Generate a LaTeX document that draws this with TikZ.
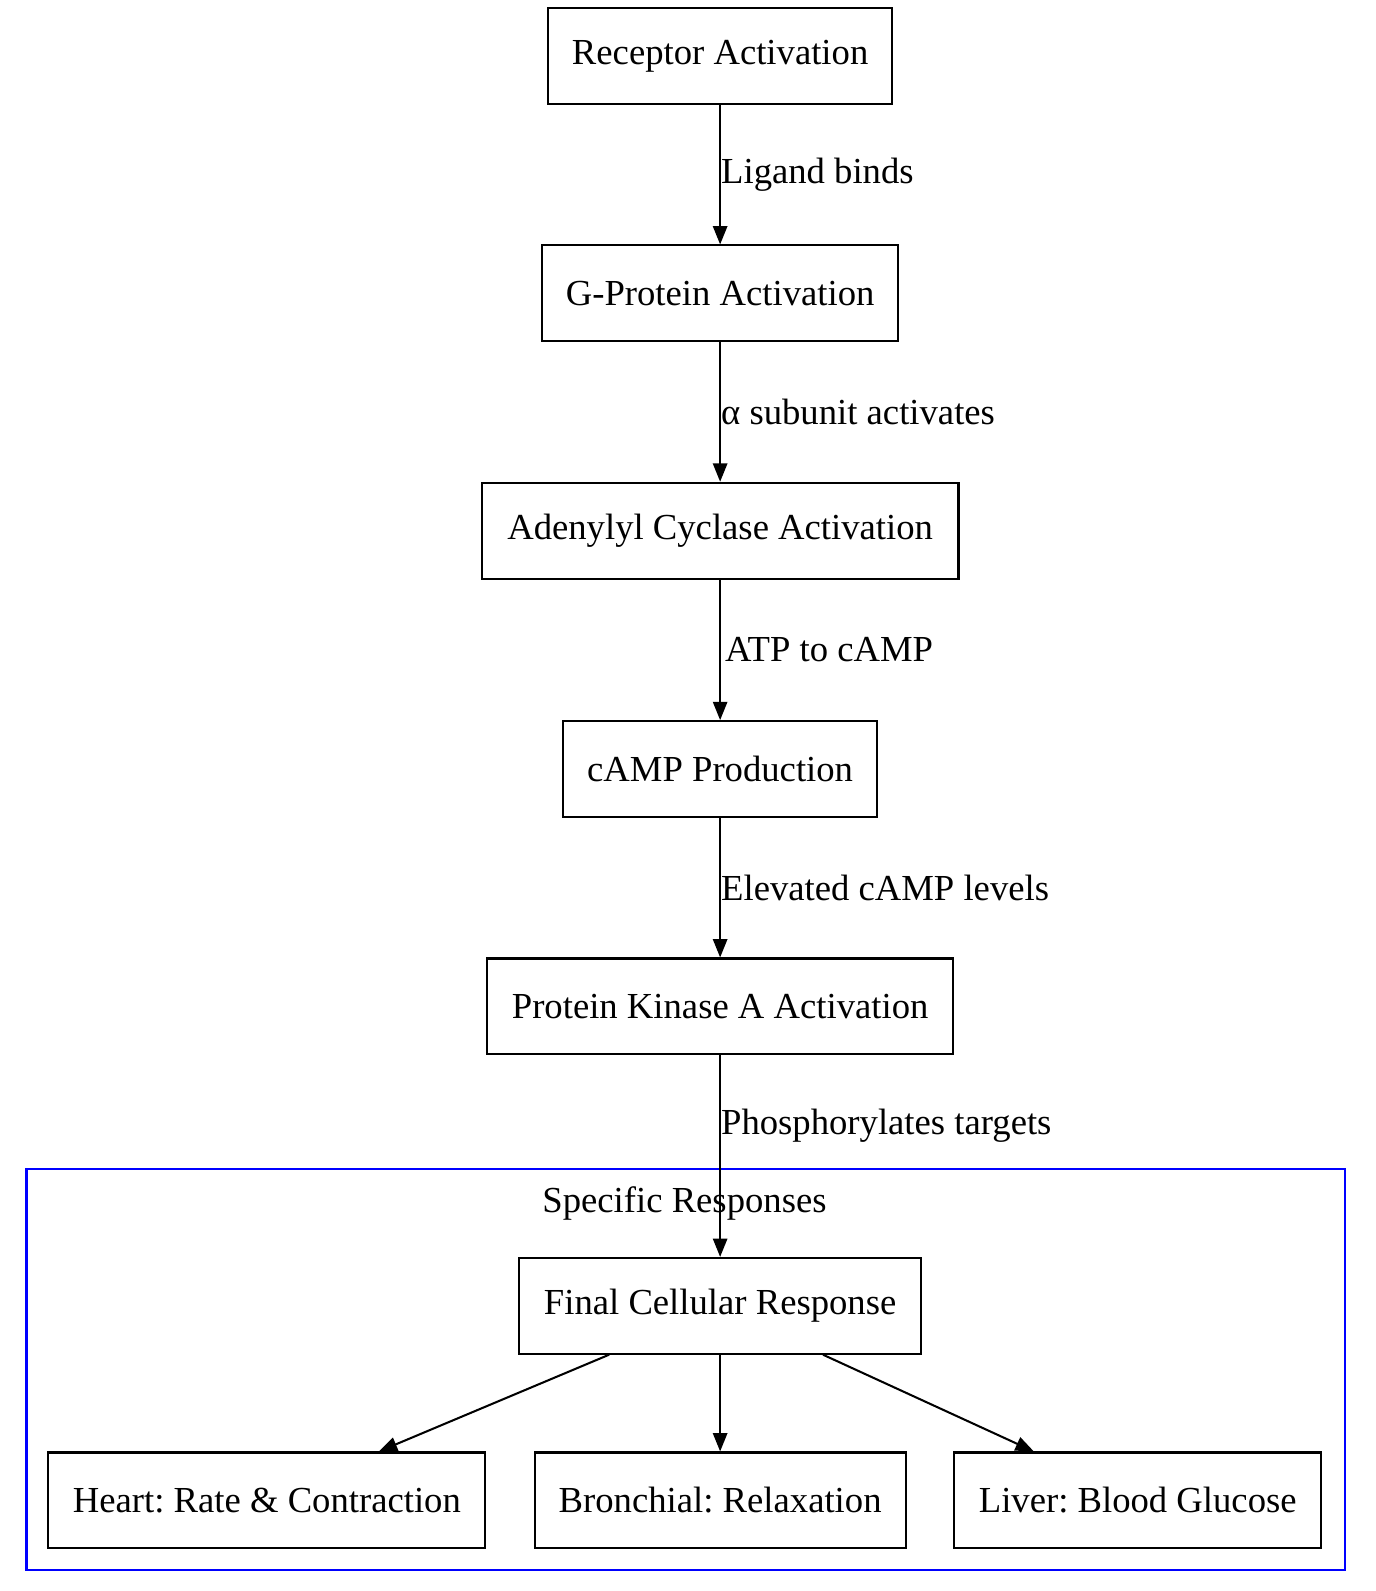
\documentclass[tikz,border=0pt]{standalone}
\usepackage{fontspec}
\setmainfont{Liberation Serif}
\usetikzlibrary{arrows.meta}
\frenchspacing
\begin{document}
\begin{tikzpicture}[x=0.5pt,y=-0.5pt,
  box/.style={draw,line width=1pt,minimum height=47pt,inner sep=0pt,font=\fontsize{18}{20}\selectfont},
  arr/.style={-{Triangle[length=9pt,width=7pt]},line width=1pt},
  lab/.style={font=\fontsize{18}{20}\selectfont,anchor=west,inner sep=0pt}]
\useasboundingbox (0,0) rectangle (1350,1562);
\draw[blue,line width=1pt] (26,1148) rectangle (1320,1541);
\node[font=\fontsize{18}{20}\selectfont] (cl) at (672,1182) {Specific Responses};
\node[box,minimum width=169pt] (r) at (707,55) {Receptor Activation};
\node[box,minimum width=175pt] (g) at (707,288) {G-Protein Activation};
\node[box,minimum width=234pt] (a) at (707,521) {Adenylyl Cyclase Activation};
\node[box,minimum width=154pt] (c) at (707,755) {cAMP Production};
\node[box,minimum width=229pt] (p) at (707,988) {Protein Kinase A Activation};
\node[box,minimum width=197pt] (f) at (707,1282) {Final Cellular Response};
\node[box,minimum width=214.5pt] (h) at (262,1473) {Heart: Rate \& Contraction};
\node[box,minimum width=182pt] (b) at (707,1473) {Bronchial: Relaxation};
\node[box,minimum width=180pt] (l) at (1117,1473) {Liver: Blood Glucose};
\draw[arr] (r) -- node[lab,pos=0.5]{Ligand binds} (g);
\draw[arr] (g) -- node[lab,pos=0.5]{α subunit activates} (a);
\draw[arr] (a) -- node[lab,pos=0.5,xshift=2pt]{ATP to cAMP} (c);
\draw[arr] (c) -- node[lab,pos=0.5]{Elevated cAMP levels} (p);
\draw[arr] (p) -- node[lab,pos=0.35]{Phosphorylates targets} (f);
\coordinate (f1) at (598,1330); \coordinate (f2) at (808,1330);
\draw[arr] (f1) -- (h.north -| 372,0);
\draw[arr] (f) -- (b);
\draw[arr] (f2) -- (l.north -| 1015,0);
\end{tikzpicture}
\end{document}
